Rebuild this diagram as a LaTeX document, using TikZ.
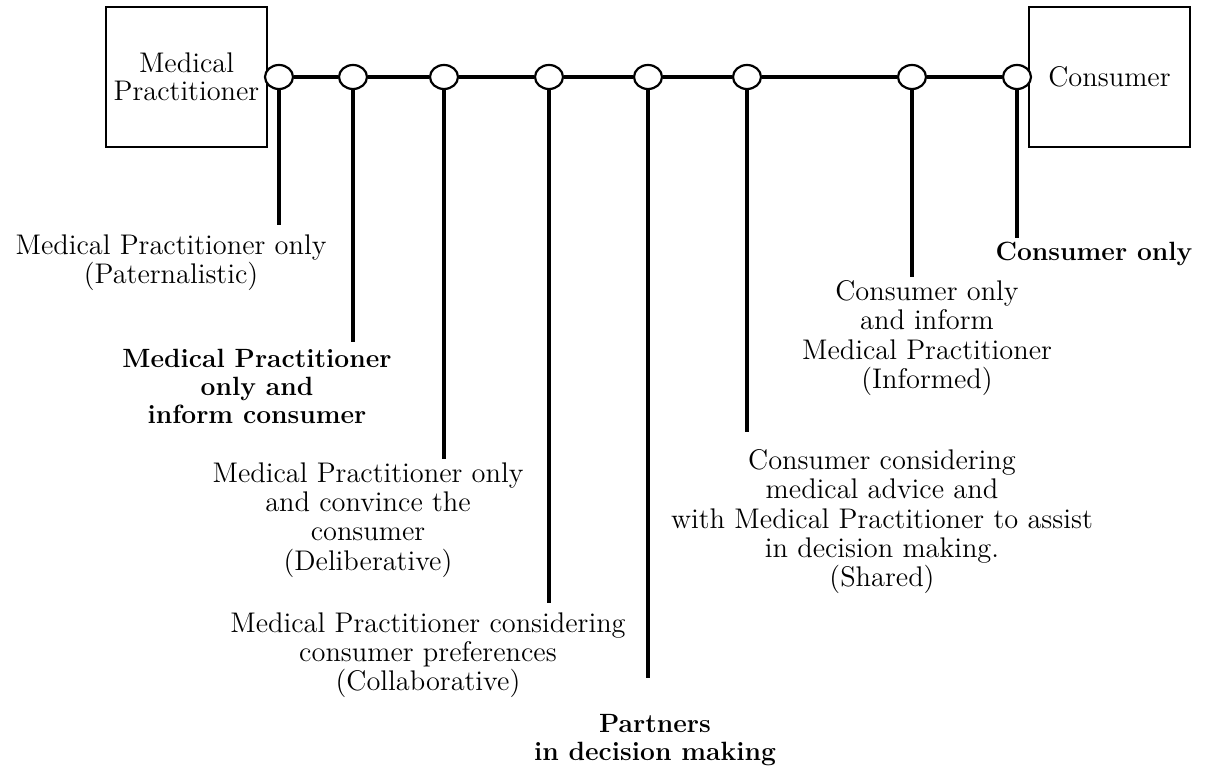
\documentclass[tikz,border=0pt]{standalone}
\usepackage{fontspec}
\usetikzlibrary{shapes.geometric}
\tikzset{
  party/.style={draw, line width=1pt, minimum width=80.5pt, minimum height=70pt,
    inner sep=0pt, align=center, font=\fontsize{14.2}{14}\selectfont},
  knot/.style={ellipse, draw, fill=white, line width=1.1pt, minimum width=14pt,
    minimum height=12pt, inner sep=0pt},
  note/.style={anchor=north, inner sep=0pt, align=center,
    font=\fontsize{14.2}{14.7}\selectfont},
  keynote/.style={note, font=\fontsize{13.2}{13.9}\selectfont\bfseries},
  stem/.style={line width=1.9pt}
}
\begin{document}
\begin{tikzpicture}[x=0.5pt, y=-0.5pt]
  \useasboundingbox (0,0) rectangle (1212,769);
  % the two parties
  \node[party] (mp) at (186.5,77) {Medical\\Practitioner};
  \node[party] (cons) at (1109.5,77) {Consumer};
  % decision points on the line
  \node[knot] (c1) at (279,77) {};
  \node[knot] (c2) at (353,77) {};
  \node[knot] (c3) at (444,77) {};
  \node[knot] (c4) at (549,77) {};
  \node[knot] (c5) at (648,77) {};
  \node[knot] (c6) at (747,77) {};
  \node[knot] (c7) at (912,77) {};
  \node[knot] (c8) at (1017,77) {};
  \draw[stem] (c1.east) -- (c2.west);
  \draw[stem] (c2.east) -- (c3.west);
  \draw[stem] (c3.east) -- (c4.west);
  \draw[stem] (c4.east) -- (c5.west);
  \draw[stem] (c5.east) -- (c6.west);
  \draw[stem] (c6.east) -- (c7.west);
  \draw[stem] (c7.east) -- (c8.west);
  % drop lines
  \coordinate (e1) at (279,225);
  \coordinate (e2) at (353,342);
  \coordinate (e3) at (444,459);
  \coordinate (e4) at (549,603);
  \coordinate (e5) at (648,678);
  \coordinate (e6) at (747,432);
  \coordinate (e7) at (912,277);
  \coordinate (e8) at (1017,238);
  \draw[stem] (c1.south) -- (e1);
  \draw[stem] (c2.south) -- (e2);
  \draw[stem] (c3.south) -- (e3);
  \draw[stem] (c4.south) -- (e4);
  \draw[stem] (c5.south) -- (e5);
  \draw[stem] (c6.south) -- (e6);
  \draw[stem] (c7.south) -- (e7);
  \draw[stem] (c8.south) -- (e8);
  % labels
  \node[note, font=\fontsize{14.2}{12.5}\selectfont] (l1) at (171,234)
    {Medical Practitioner only\\(Paternalistic)};
  \node[keynote] (l2) at (257,349) {Medical Practitioner\\only and\\inform consumer};
  \node[note] (l3) at (368,462)
    {Medical Practitioner only\\and convince the\\consumer\\(Deliberative)};
  \node[note] (l4) at (428,612)
    {Medical Practitioner considering\\consumer preferences\\(Collaborative)};
  \node[keynote] (l5) at (655,714) {Partners\\in decision making};
  \node[note] (l6) at (882,449)
    {Consumer considering\\medical advice and\\with Medical Practitioner to assist\\in decision making.\\(Shared)};
  \node[note] (l7) at (927,280)
    {Consumer only\\and inform\\Medical Practitioner\\(Informed)};
  \node[keynote] (l8) at (1094,242) {Consumer only};
\end{tikzpicture}
\end{document}
